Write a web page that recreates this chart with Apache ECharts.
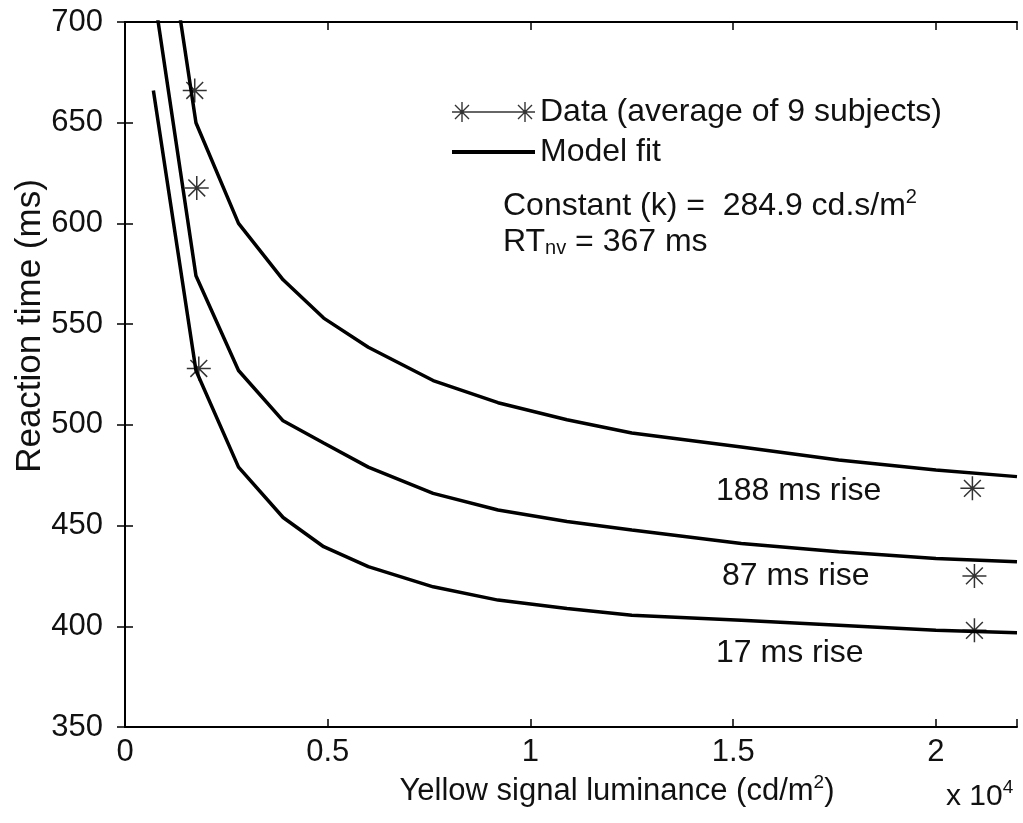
<!DOCTYPE html>
<html>
<head>
<meta charset="utf-8">
<title>Reaction time vs yellow signal luminance</title>
<script src="https://cdn.jsdelivr.net/npm/echarts@6/dist/echarts.min.js"></script>
<style>
  html, body { margin: 0; padding: 0; background: #fff; }
  #chart { width: 1023px; height: 823px; }
</style>
</head>
<body>
<div id="chart"></div>
<script>
// Luminance is in units of 10^4 cd/m2, reaction time in ms
const fitLuminance = [0.07, 0.175, 0.28, 0.39, 0.49, 0.6, 0.76, 0.92, 1.09, 1.25, 1.52, 1.76, 2.0, 2.2];
const fit188 = [790, 650, 600, 572, 553, 538.5, 522, 511, 502.5, 496, 489, 482.5, 477.6, 474.3];
const fit87  = [716, 574, 527, 502, 491, 479, 466, 457.7, 452, 447.8, 441.1, 437, 433.7, 432];
const fit17  = [666, 527, 479, 454, 439.5, 429.6, 419.6, 413, 408.8, 405.5, 403, 400.5, 398, 396.8];

// Measured averages (two luminance levels per rise time)
const dataLum188 = [0.172, 2.09];
const dataRT188  = [666, 468.5];
const dataLum87  = [0.177, 2.095];
const dataRT87   = [617.6, 425];
const dataLum17  = [0.182, 2.095];
const dataRT17   = [528, 398];

const yTicks = [350, 400, 450, 500, 550, 600, 650, 700];
const xTicks = [0, 0.5, 1, 1.5, 2];

const FONT = 'Liberation Sans';
const STAR = 'path://M0 10L20 10M10 0L10 20M3 3L17 17M3 17L17 3';
const STAR_LINE = 'path://M0 10L20 10M10 0L10 20M3 3L17 17M3 17L17 3M20 10L63 10M63 10L83 10M73 0L73 20M66 3L80 17M66 17L80 3';

function zip(xs, ys) {
    return xs.map((x, i) => [x, ys[i]]);
}

const chart = echarts.init(document.getElementById('chart'));

function fitSeries(values) {
    return {
        name: 'Model fit',
        type: 'line',
        data: zip(fitLuminance, values),
        symbol: 'none',
        clip: true,
        lineStyle: { color: '#000', width: 3.5 },
        itemStyle: { color: '#000' },
        z: 3
    };
}

function dataSeries(lum, rt) {
    return {
        name: 'Data (average of 9 subjects)',
        type: 'scatter',
        data: zip(lum, rt),
        symbol: STAR,
        symbolSize: 24,
        itemStyle: { color: 'transparent', borderColor: '#000', borderWidth: 1.5 },
        z: 4
    };
}

const hiddenLabel = { show: false };
const insideTick = { show: true, inside: true, length: 8, lineStyle: { color: '#000', width: 1.5 } };
const boxLine = { show: true, lineStyle: { color: '#000', width: 2 } };

chart.setOption({
    animation: false,
    backgroundColor: '#fff',
    textStyle: { fontFamily: FONT, color: '#111' },
    grid: { left: 125, right: 6, top: 22, bottom: 96 },
    xAxis: [
        {
            type: 'value',
            min: 0,
            max: 2.2,
            interval: 0.5,
            axisLine: boxLine,
            axisTick: insideTick,
            splitLine: { show: false },
            axisLabel: {
                fontSize: 31,
                color: '#111',
                margin: 10,
                fontFamily: FONT,
                formatter: v => xTicks.indexOf(v) >= 0 ? String(v) : ''
            },
            name: 'Yellow signal luminance (cd/m{sup|2})',
            nameLocation: 'middle',
            nameGap: 36,
            nameTextStyle: {
                fontSize: 31,
                color: '#111',
                fontFamily: FONT,
                padding: [0, 0, 0, 92],
                rich: {
                    sup: { fontSize: 19, verticalAlign: 'top', padding: [0, 0, 18, 0], fontFamily: FONT, color: '#111' }
                }
            }
        },
        {
            type: 'value',
            position: 'top',
            min: 0,
            max: 2.2,
            interval: 0.5,
            axisLine: boxLine,
            axisTick: insideTick,
            axisLabel: hiddenLabel,
            splitLine: { show: false }
        }
    ],
    yAxis: [
        {
            type: 'value',
            min: yTicks[0],
            max: yTicks[yTicks.length - 1],
            interval: 50,
            axisLine: boxLine,
            axisTick: insideTick,
            splitLine: { show: false },
            axisLabel: { fontSize: 31, color: '#111', margin: 22, fontFamily: FONT }
        },
        {
            type: 'value',
            position: 'right',
            min: yTicks[0],
            max: yTicks[yTicks.length - 1],
            interval: 50,
            axisLine: boxLine,
            axisTick: insideTick,
            axisLabel: hiddenLabel,
            splitLine: { show: false }
        }
    ],
    legend: {
        orient: 'vertical',
        left: 445,
        top: 89,
        itemWidth: 83,
        itemHeight: 20,
        itemGap: 4,
        selectedMode: false,
        textStyle: { fontSize: 32, color: '#111', fontFamily: FONT, lineHeight: 36 },
        data: [
            {
                name: 'Data (average of 9 subjects)',
                icon: STAR_LINE,
                itemStyle: { color: 'transparent', borderColor: '#000', borderWidth: 1.4 }
            },
            {
                name: 'Model fit',
                itemStyle: { color: 'transparent', borderColor: 'transparent', borderWidth: 0 },
                lineStyle: { color: '#000', width: 4 }
            }
        ]
    },
    graphic: [
        {
            type: 'text',
            left: 503,
            top: 187,
            style: {
                text: 'Constant (k) =  284.9 cd.s/m{sup|2}',
                font: '32px "Liberation Sans"',
                fill: '#111',
                rich: {
                    sup: { fontSize: 20, fontFamily: FONT, padding: [0, 0, 18, 0], fill: '#111' }
                }
            }
        },
        {
            type: 'text',
            left: 503,
            top: 226,
            style: {
                text: 'RT{sub|nv} = 367 ms',
                font: '32px "Liberation Sans"',
                fill: '#111',
                rich: {
                    sub: { fontSize: 20, fontFamily: FONT, padding: [12, 0, 0, 0], fill: '#111' }
                }
            }
        },
        { type: 'text', left: 716, top: 475, style: { text: '188 ms rise', font: '32px "Liberation Sans"', fill: '#111' } },
        { type: 'text', left: 722, top: 560, style: { text: '87 ms rise', font: '32px "Liberation Sans"', fill: '#111' } },
        { type: 'text', left: 716, top: 637, style: { text: '17 ms rise', font: '32px "Liberation Sans"', fill: '#111' } },
        {
            type: 'text',
            left: 946,
            top: 778,
            style: {
                text: 'x 10{sup|4}',
                font: '30px "Liberation Sans"',
                fill: '#111',
                rich: {
                    sup: { fontSize: 19, fontFamily: FONT, padding: [0, 0, 18, 0], fill: '#111' }
                }
            }
        },
        {
            type: 'text',
            x: 30,
            y: 326,
            rotation: Math.PI / 2,
            style: {
                text: 'Reaction time (ms)',
                font: '35px "Liberation Sans"',
                fill: '#111',
                align: 'center',
                verticalAlign: 'middle'
            }
        }
    ],
    series: [
        fitSeries(fit188),
        fitSeries(fit87),
        fitSeries(fit17),
        dataSeries(dataLum188, dataRT188),
        dataSeries(dataLum87, dataRT87),
        dataSeries(dataLum17, dataRT17)
    ]
});

window.addEventListener('resize', function() {
    chart.resize();
});
</script>
</body>
</html>
